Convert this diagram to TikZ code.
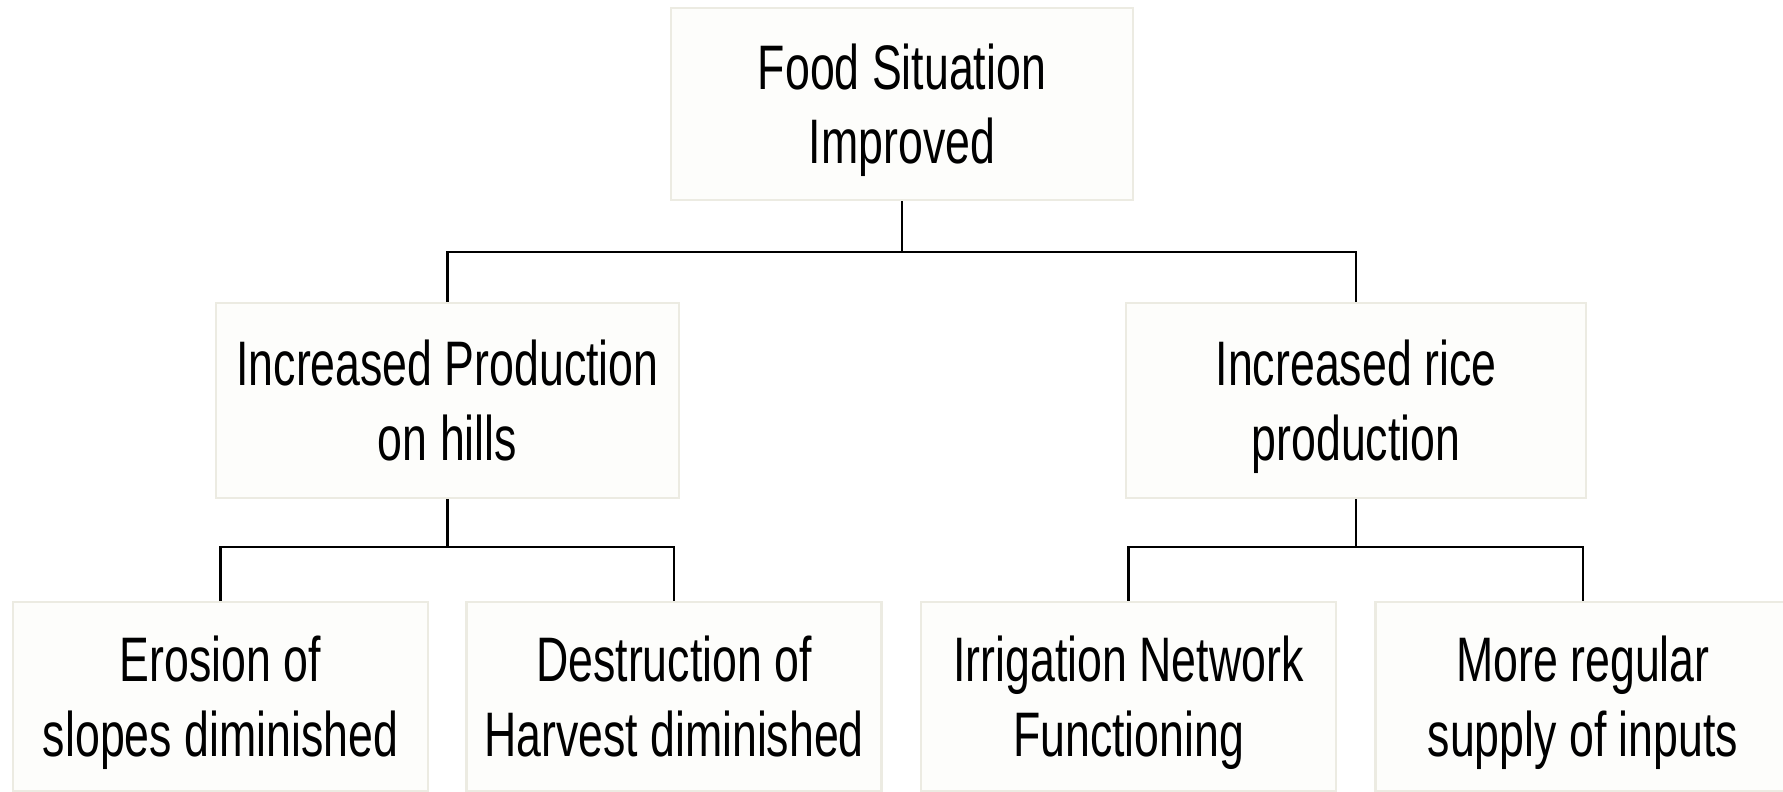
\documentclass[tikz,border=0pt]{standalone}
\usepackage{fontspec}
\setmainfont{Liberation Sans}[FakeStretch=0.71]
\definecolor{boxfill}{HTML}{FDFDFB}
\definecolor{boxline}{HTML}{ECEBE2}
\begin{document}
\begin{tikzpicture}[
  box/.style={draw=boxline, line width=0.6pt, fill=boxfill, align=center, inner sep=0pt,
    text height=38pt, text depth=3.9pt,
    font=\fontsize{17.9}{21.3}\selectfont},
  conn/.style={draw=black, line width=0.75pt}
]
\useasboundingbox[fill=white] (0,0) rectangle (17.83,7.92);
\node[box, minimum width=4.62cm, minimum height=1.92cm] (top) at (9.02,6.88) {Food Situation\\Improved};
\node[box, minimum width=4.63cm, minimum height=1.95cm] (ml) at (4.475,3.915) {Increased Production\\on hills};
\node[box, minimum width=4.60cm, minimum height=1.95cm] (mr) at (13.56,3.915) {Increased rice\\production};
\node[box, minimum width=4.15cm, minimum height=1.89cm] (b1) at (2.205,0.955) {Erosion of\\slopes diminished};
\node[box, minimum width=4.15cm, minimum height=1.89cm] (b2) at (6.74,0.955) {Destruction of\\Harvest diminished};
\node[box, minimum width=4.15cm, minimum height=1.89cm] (b3) at (11.285,0.955) {Irrigation Network\\Functioning};
\node[box, minimum width=4.15cm, minimum height=1.89cm] (b4) at (15.83,0.955) {More regular\\supply of inputs};
\coordinate (j1) at (9.02,5.40);
\coordinate (j2) at (4.475,2.45);
\coordinate (j3) at (13.56,2.45);
\draw[conn] (top.south) -- (j1);
\draw[conn] (ml.north) |- (j1) -| (mr.north);
\draw[conn] (ml.south) -- (j2);
\draw[conn] (b1.north) |- (j2) -| (b2.north);
\draw[conn] (mr.south) -- (j3);
\draw[conn] (b3.north) |- (j3) -| (b4.north);
\end{tikzpicture}
\end{document}
